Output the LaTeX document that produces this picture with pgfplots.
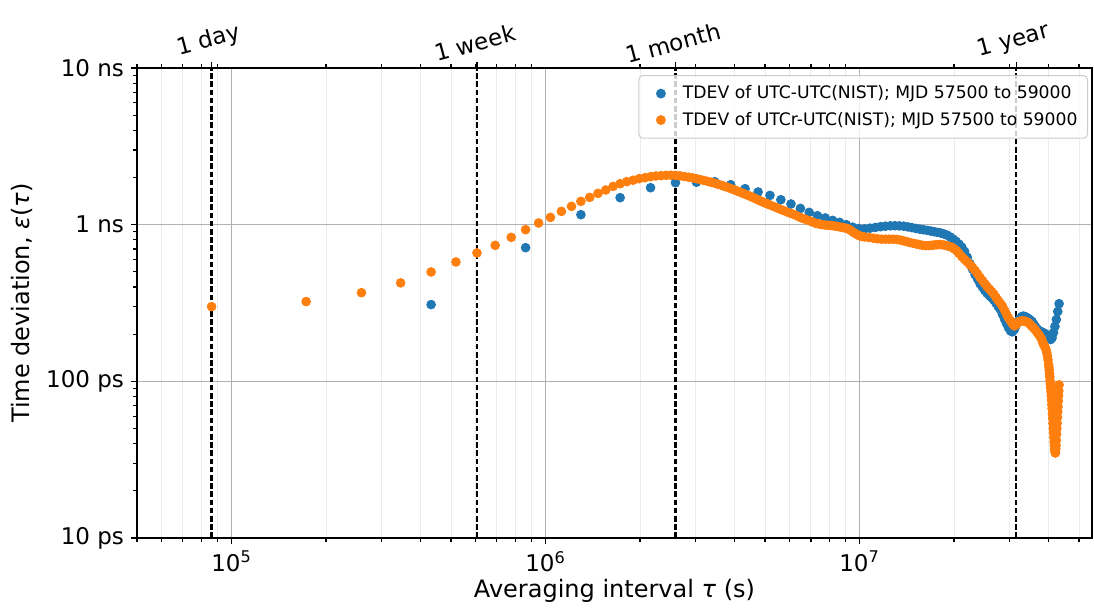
\documentclass[border=0pt]{standalone}
\usepackage{fontspec}
\setmainfont{DejaVu Sans}
\usepackage{pgfplots}
\pgfplotsset{compat=1.18}
\usepackage{pgfplotstable}
\definecolor{tabblue}{HTML}{1F77B4}
\definecolor{taborange}{HTML}{FF7F0E}
\definecolor{majgrid}{HTML}{B0B0B0}
\definecolor{mingrid}{HTML}{EBEBEB}
\definecolor{legframe}{HTML}{CCCCCC}

% blue: TDEV of UTC-UTC(NIST), tau in days, TDEV in ns
\pgfplotstableread{
d v
5 0.309
10 0.713
15 1.158
20 1.487
25 1.722
30 1.854
35 1.867
40 1.881
45 1.800
50 1.697
55 1.617
60 1.538
65 1.443
70 1.355
75 1.270
80 1.198
85 1.141
90 1.104
95 1.065
100 1.034
105 1.000
110 0.964
115 0.945
120 0.940
125 0.950
130 0.960
135 0.971
140 0.978
145 0.983
150 0.985
155 0.982
160 0.978
165 0.968
170 0.957
175 0.946
180 0.936
185 0.928
190 0.920
195 0.911
200 0.902
205 0.893
210 0.885
215 0.872
220 0.857
225 0.835
230 0.808
235 0.782
240 0.751
245 0.718
250 0.675
255 0.620
260 0.565
265 0.520
270 0.480
275 0.450
280 0.420
285 0.400
290 0.380
295 0.365
300 0.352
305 0.342
310 0.330
315 0.315
320 0.300
325 0.287
330 0.268
335 0.250
340 0.234
345 0.220
350 0.210
355 0.207
360 0.214
365 0.228
370 0.241
375 0.251
380 0.259
385 0.261
390 0.259
395 0.255
400 0.251
405 0.246
410 0.241
415 0.232
420 0.224
425 0.217
430 0.211
435 0.209
440 0.207
445 0.204
450 0.202
455 0.199
460 0.195
465 0.188
470 0.185
475 0.190
480 0.205
485 0.224
490 0.248
495 0.279
500 0.313
}\bluedata

% orange: TDEV of UTCr-UTC(NIST), tau in days, TDEV in ns
\pgfplotstableread{
d v
1 0.300
2 0.323
3 0.368
4 0.425
5 0.499
6 0.578
7 0.660
8 0.738
9 0.830
10 0.929
11 1.025
12 1.113
13 1.216
14 1.309
15 1.409
16 1.493
17 1.584
18 1.665
19 1.756
20 1.826
21 1.881
22 1.923
23 1.966
24 1.995
25 2.025
26 2.046
27 2.055
28 2.065
29 2.068
30 2.065
31 2.050
32 2.030
33 2.010
34 1.990
35 1.965
36 1.940
37 1.915
38 1.890
39 1.865
40 1.840
41 1.810
42 1.785
43 1.755
44 1.730
45 1.700
46 1.675
47 1.645
48 1.620
49 1.590
50 1.565
51 1.540
52 1.515
53 1.490
54 1.465
55 1.440
56 1.415
57 1.395
58 1.375
59 1.355
60 1.335
62 1.300
64 1.265
66 1.235
68 1.205
70 1.180
72 1.155
74 1.125
76 1.100
78 1.080
80 1.060
82 1.040
84 1.020
86 1.010
88 1.000
90 0.995
92 0.990
94 0.988
96 0.982
98 0.975
100 0.968
102 0.960
104 0.952
106 0.944
108 0.925
110 0.900
112 0.880
114 0.862
116 0.848
118 0.840
120 0.835
124 0.828
128 0.820
132 0.812
136 0.808
140 0.808
144 0.808
148 0.808
152 0.805
156 0.798
160 0.788
164 0.778
168 0.768
172 0.760
176 0.752
180 0.745
184 0.738
188 0.735
192 0.735
196 0.738
200 0.742
204 0.745
208 0.746
212 0.745
216 0.740
220 0.733
224 0.725
228 0.717
232 0.700
236 0.680
240 0.655
245 0.625
250 0.600
255 0.578
260 0.555
265 0.533
270 0.510
275 0.485
280 0.460
285 0.440
290 0.420
295 0.402
300 0.388
305 0.374
310 0.360
315 0.343
320 0.328
325 0.315
330 0.302
335 0.285
340 0.268
345 0.254
350 0.243
355 0.233
360 0.226
365 0.230
370 0.238
375 0.242
380 0.243
385 0.243
390 0.242
395 0.240
400 0.236
405 0.230
410 0.224
415 0.219
420 0.213
425 0.206
430 0.200
435 0.193
440 0.186
443 0.178
446 0.172
449 0.168
452 0.164
455 0.158
457 0.152
459 0.145
461 0.137
463 0.128
464 0.123
465 0.118
466 0.112
467 0.107
468 0.101
469 0.096
470 0.091
471 0.086
472 0.081
473 0.076
474 0.071
475 0.067
476 0.062
477 0.058
478 0.054
479 0.050
480 0.047
481 0.044
482 0.041
483 0.039
484 0.037
485 0.036
486 0.035
487 0.035
488 0.037
489 0.039
490 0.042
491 0.046
492 0.050
493 0.054
494 0.059
495 0.064
496 0.069
497 0.075
498 0.081
499 0.087
500 0.095
}\orangedata

\begin{document}
\begin{tikzpicture}
\begin{axis}[
  scale only axis, width=477.5pt, height=235pt,
  xmode=log, ymode=log,
  xmin=5e4, xmax=5.5e7, ymin=0.01, ymax=10,
  axis line style={line width=0.7pt},
  tick align=outside,
  xtick pos=bottom, ytick pos=left,
  xtick={1e5,1e6,1e7},
  xticklabels={10\textsuperscript{5},10\textsuperscript{6},10\textsuperscript{7}},
  minor xtick={5e4,6e4,7e4,8e4,9e4,2e5,3e5,4e5,5e5,6e5,7e5,8e5,9e5,2e6,3e6,4e6,5e6,6e6,7e6,8e6,9e6,2e7,3e7,4e7,5e7},
  ytick={0.01,0.1,1,10},
  yticklabels={10 ps,100 ps,1 ns,10 ns},
  minor ytick={0.02,0.03,0.04,0.05,0.06,0.07,0.08,0.09,0.2,0.3,0.4,0.5,0.6,0.7,0.8,0.9,2,3,4,5,6,7,8,9},
  major tick length=3pt, minor tick length=1.8pt,
  every tick/.style={black, line width=0.6pt},
  xmajorgrids, ymajorgrids, xminorgrids,
  major grid style={majgrid, line width=0.5pt},
  minor grid style={mingrid, line width=0.5pt},
  tick label style={font=\fontsize{11.5}{13}\selectfont},
  label style={font=\fontsize{12}{14}\selectfont},
  xlabel={Averaging interval \textit{τ} (s)},
  ylabel={Time deviation, \textit{ε}(\textit{τ})},
  xlabel style={at={(axis description cs:0.5,-0.1128)}, anchor=center},
  ylabel style={at={(axis description cs:-0.1204,0.5)}, anchor=center},
  legend cell align=left,
  legend style={at={(rel axis cs:0.9958,0.985)}, anchor=north east,
    draw=legframe, rounded corners=2pt, fill=white, fill opacity=0.8,
    draw opacity=1, text opacity=1, line width=0.5pt,
    font=\fontsize{8.6}{10}\selectfont, row sep=1.2pt, inner sep=3pt},
  legend image code/.code={\path[draw=none,fill=none] (-3pt,-2pt) rectangle (14pt,2pt);
    \draw[mark repeat=2,mark phase=2,fill opacity=1,draw opacity=1] plot coordinates {(0pt,0pt) (5pt,0pt) (10pt,0pt)};},
]
\coordinate (ll) at (rel axis cs:0,0);
\coordinate (ur) at (rel axis cs:1,1);
\addplot[only marks, mark=*, mark size=2.2pt, color=tabblue]
  table[x expr=\thisrow{d}*86400, y=v] {\bluedata};
\addlegendentry{TDEV of UTC-UTC(NIST); MJD 57500 to 59000}
\addplot[only marks, mark=*, mark size=2.2pt, color=taborange]
  table[x expr=\thisrow{d}*86400, y=v] {\orangedata};
\addlegendentry{TDEV of UTCr-UTC(NIST); MJD 57500 to 59000}
\addplot[black, line width=1.3pt, dash pattern=on 2.8pt off 1.3pt, forget plot] coordinates {(86400,0.01) (86400,10)};
\addplot[black, line width=1.3pt, dash pattern=on 2.8pt off 1.3pt, forget plot] coordinates {(604800,0.01) (604800,10)};
\addplot[black, line width=1.3pt, dash pattern=on 2.8pt off 1.3pt, forget plot] coordinates {(2592000,0.01) (2592000,10)};
\addplot[black, line width=1.3pt, dash pattern=on 2.8pt off 1.3pt, forget plot] coordinates {(31536000,0.01) (31536000,10)};
\end{axis}
\begin{axis}[
  scale only axis, width=477.5pt, height=235pt,
  xmode=log, ymode=log,
  xmin=5e4, xmax=5.5e7, ymin=0.01, ymax=10,
  axis x line*=top, axis y line=none,
  axis line style={-, line width=0.7pt},
  xtick align=outside,
  xtick={86400,604800,2592000,31536000},
  xticklabels={1 day,1 week,1 month,1 year},
  minor xtick={5e4,6e4,7e4,8e4,9e4,2e5,3e5,4e5,5e5,6e5,7e5,8e5,9e5,2e6,3e6,4e6,5e6,6e6,7e6,8e6,9e6,2e7,3e7,4e7,5e7},
  major tick length=3pt, minor tick length=1.8pt,
  every tick/.style={black, line width=0.6pt},
  xticklabel style={rotate=15, anchor=south, yshift=1.5pt, xshift=1.5pt, font=\fontsize{11.5}{13}\selectfont},
]
\end{axis}
\pgfresetboundingbox
\path ([xshift=-68.5pt,yshift=-34.5pt]ll) rectangle ([xshift=1pt,yshift=34pt]ur);
\end{tikzpicture}
\end{document}
